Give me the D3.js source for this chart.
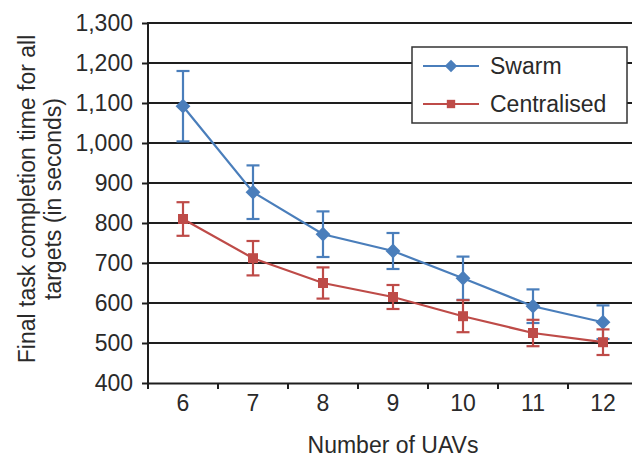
<!DOCTYPE html>
<html>
<head>
<meta charset="utf-8">
<script src="https://cdn.jsdelivr.net/npm/d3@7"></script>
<style>
  body { margin: 0; background: #fff; }
  svg { display: block; font-family: "Liberation Sans", Arial, sans-serif; }
</style>
</head>
<body>
<div id="chart"></div>
<script>
// data
const uavs = ["6", "7", "8", "9", "10", "11", "12"];
const swarmMean = [1092, 877, 772, 730, 662, 592, 552];
const swarmErr = [88, 67, 57, 45, 54, 42, 42];
const centralMean = [810, 712, 650, 615, 567, 525, 502];
const centralErr = [42, 43, 39, 30, 40, 33, 32];
const yTicks = [400, 500, 600, 700, 800, 900, 1000, 1100, 1200, 1300];

const width = 632, height = 460;
const fontSize = 23;
const textColor = "#2a2a2a";
const blue = "#4a7ebb", red = "#be4b48";

const svg = d3.select("#chart").append("svg")
  .attr("width", width)
  .attr("height", height);

const x = d3.scaleBand().domain(uavs).range([148, 638]).padding(0);
const y = d3.scaleLinear().domain([400, 1300]).range([383, 23]);

// gridlines
svg.append("g")
  .selectAll("line")
  .data(yTicks.filter(d => d > 400))
  .join("line")
  .attr("x1", 148).attr("x2", 638)
  .attr("y1", d => y(d)).attr("y2", d => y(d))
  .attr("stroke", "#1e1e1e")
  .attr("stroke-width", 2);

// y axis
const yAxis = svg.append("g")
  .attr("transform", "translate(148,0)")
  .call(d3.axisLeft(y).tickValues(yTicks).tickFormat(d3.format(",")).tickSize(6).tickSizeOuter(0).tickPadding(9));
yAxis.select(".domain").attr("stroke", "#1e1e1e").attr("stroke-width", 2)
  .attr("d", `M0,${y(1300) - 1}V${y(400) + 6}`);
yAxis.selectAll(".tick line").attr("stroke", "#1e1e1e").attr("stroke-width", 2);
yAxis.selectAll(".tick text").attr("font-size", fontSize).attr("fill", textColor)
  .attr("font-family", "Liberation Sans, Arial, sans-serif");

// x axis: labels at band centres, ticks at band edges
const xAxis = svg.append("g")
  .attr("transform", `translate(0,${y(400)})`)
  .call(d3.axisBottom(x).tickSize(0).tickPadding(12).tickSizeOuter(0));
xAxis.select(".domain").attr("stroke", "#1e1e1e").attr("stroke-width", 2);
xAxis.selectAll(".tick text").attr("font-size", fontSize).attr("fill", textColor)
  .attr("font-family", "Liberation Sans, Arial, sans-serif");
xAxis.selectAll(".edge")
  .data(uavs.slice(1))
  .join("line")
  .attr("class", "edge")
  .attr("x1", d => x(d)).attr("x2", d => x(d))
  .attr("y1", 0).attr("y2", 6)
  .attr("stroke", "#1e1e1e").attr("stroke-width", 2);

// axis titles
svg.append("text")
  .attr("x", 393)
  .attr("y", 453)
  .attr("text-anchor", "middle")
  .attr("font-size", fontSize)
  .attr("fill", textColor)
  .text("Number of UAVs");

const yTitle = svg.append("text")
  .attr("transform", "translate(0,199) rotate(-90)")
  .attr("text-anchor", "middle")
  .attr("font-size", fontSize)
  .attr("fill", textColor);
yTitle.append("tspan").attr("x", 0).attr("y", 35).text("Final task completion time for all");
yTitle.append("tspan").attr("x", 0).attr("y", 61).text("targets (in seconds)");

// series
const series = [
  { name: "Swarm", mean: swarmMean, err: swarmErr, color: blue, rot: 45, size: 110 },
  { name: "Centralised", mean: centralMean, err: centralErr, color: red, rot: 0, size: 100 }
];

const cx = d => x(d) + x.bandwidth() / 2;
const line = d3.line().x(d => cx(d[0])).y(d => y(d[1]));
const marker = d3.symbol().type(d3.symbolSquare);

series.forEach(s => {
  const pts = uavs.map((u, i) => [u, s.mean[i], s.err[i]]);
  const g = svg.append("g");

  // error bars
  const eb = g.selectAll(".eb").data(pts).join("g").attr("class", "eb")
    .attr("stroke", s.color).attr("stroke-width", 2.2);
  eb.append("line")
    .attr("x1", d => cx(d[0])).attr("x2", d => cx(d[0]))
    .attr("y1", d => y(d[1] + d[2])).attr("y2", d => y(d[1] - d[2]));
  eb.append("line")
    .attr("x1", d => cx(d[0]) - 6.5).attr("x2", d => cx(d[0]) + 6.5)
    .attr("y1", d => y(d[1] + d[2])).attr("y2", d => y(d[1] + d[2]));
  eb.append("line")
    .attr("x1", d => cx(d[0]) - 6.5).attr("x2", d => cx(d[0]) + 6.5)
    .attr("y1", d => y(d[1] - d[2])).attr("y2", d => y(d[1] - d[2]));

  g.append("path")
    .datum(pts)
    .attr("d", line)
    .attr("fill", "none")
    .attr("stroke", s.color)
    .attr("stroke-width", 2.2);

  g.selectAll(".mk").data(pts).join("path").attr("class", "mk")
    .attr("transform", d => `translate(${cx(d[0])},${y(d[1])}) rotate(${s.rot})`)
    .attr("d", marker.size(s.size)())
    .attr("fill", s.color);
});

// legend
const legend = svg.append("g").attr("transform", "translate(412,47)");
legend.append("rect")
  .attr("width", 215).attr("height", 76)
  .attr("fill", "#fff").attr("stroke", "#333").attr("stroke-width", 1.5);
series.forEach((s, i) => {
  const ly = 19 + i * 38;
  legend.append("line")
    .attr("x1", 11).attr("x2", 67).attr("y1", ly).attr("y2", ly)
    .attr("stroke", s.color).attr("stroke-width", 2.2);
  legend.append("path")
    .attr("transform", `translate(39,${ly}) rotate(${s.rot})`)
    .attr("d", marker.size(s.size * 0.7)())
    .attr("fill", s.color);
  legend.append("text")
    .attr("x", 78).attr("y", ly + 8)
    .attr("font-size", fontSize)
    .attr("fill", textColor)
    .text(s.name);
});
</script>
</body>
</html>
